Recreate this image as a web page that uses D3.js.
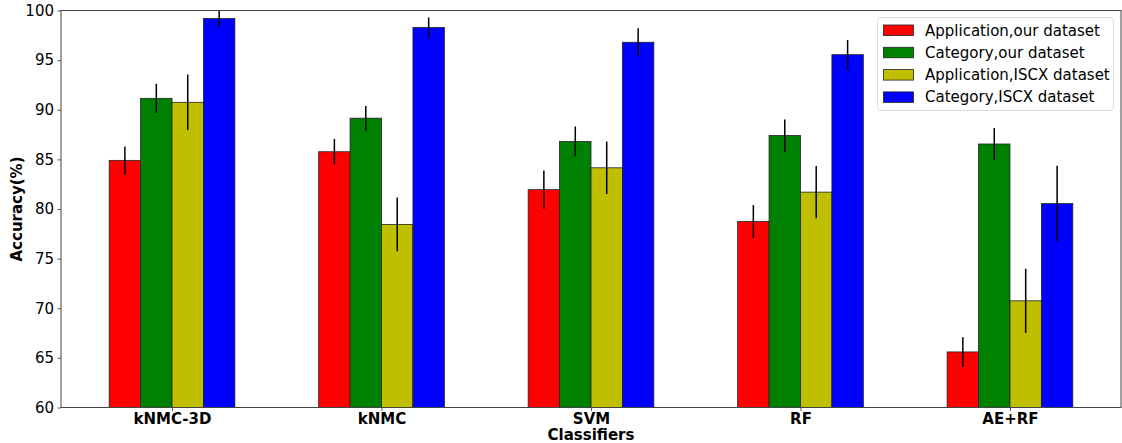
<!DOCTYPE html>
<html><head><meta charset="utf-8">
<script src="https://cdn.jsdelivr.net/npm/d3@7"></script>
<style>body{margin:0;background:#fff}text{font-family:"DejaVu Sans",sans-serif}</style>
</head><body><svg id="c" width="1122" height="443"></svg>
<script>
const categories = ["kNMC-3D","kNMC","SVM","RF","AE+RF"];
const seriesNames = ["Application,our dataset","Category,our dataset","Application,ISCX dataset","Category,ISCX dataset"];
const seriesColors = ["#ff0000","#008000","#bfbf00","#0000ff"];
const appOur = [84.9, 85.77, 81.95, 78.75, 65.6];
const catOur = [91.15, 89.15, 86.8, 87.4, 86.55];
const appISCX = [90.75, 78.45, 84.15, 81.7, 70.75];
const catISCX = [99.2, 98.3, 96.8, 95.55, 80.55];
const errAppOur = [1.4, 1.28, 1.93, 1.66, 1.49];
const errCatOur = [1.46, 1.24, 1.5, 1.63, 1.6];
const errAppISCX = [2.8, 2.7, 2.64, 2.64, 3.24];
const errCatISCX = [0.85, 1.0, 1.41, 1.49, 3.81];
const yTicks = [60,65,70,75,80,85,90,95,100];

const values = [appOur, catOur, appISCX, catISCX];
const errs = [errAppOur, errCatOur, errAppISCX, errCatISCX];

const svg = d3.select("#c");
const L=61, R=1121, T=10.5, B=407.5;
const x = d3.scaleLinear().domain([-0.53, 4.53]).range([L, R]);
const y = d3.scaleLinear().domain([60, 100]).range([B, T]);
const bw = 0.15;

svg.append("defs").append("clipPath").attr("id","clip")
  .append("rect").attr("x",L).attr("y",T).attr("width",R-L).attr("height",B-T);

const g = svg.append("g").attr("clip-path","url(#clip)");
values.forEach((vals, s) => {
  const off = (s - 1.5) * bw;
  g.selectAll(null).data(vals).enter().append("rect")
    .attr("x", (d,i) => x(i + off - bw/2))
    .attr("width", x(bw) - x(0))
    .attr("y", d => y(d))
    .attr("height", d => B - y(d))
    .attr("fill", seriesColors[s])
    .attr("stroke", "#222").attr("stroke-width", 0.8);
});
values.forEach((vals, s) => {
  const off = (s - 1.5) * bw;
  g.selectAll(null).data(vals).enter().append("line")
    .attr("x1", (d,i) => x(i + off)).attr("x2", (d,i) => x(i + off))
    .attr("y1", (d,i) => y(d - errs[s][i])).attr("y2", (d,i) => y(d + errs[s][i]))
    .attr("stroke", "#000").attr("stroke-width", 1.5);
});

// axes
const ya = svg.append("g").attr("transform",`translate(${L},0)`)
  .call(d3.axisLeft(y).tickValues(yTicks).tickSize(3.5).tickPadding(3.5));
ya.select(".domain").remove();
ya.selectAll("line").attr("stroke","#333").attr("stroke-width",0.8);
ya.selectAll("text").attr("font-size","15px").attr("fill","#000").attr("font-family","DejaVu Sans");

const xa = svg.append("g").attr("transform",`translate(0,${B})`)
  .call(d3.axisBottom(x).tickValues(d3.range(categories.length)).tickFormat(i => categories[i]).tickSize(3.5).tickPadding(2));
xa.select(".domain").remove();
xa.selectAll("line").attr("stroke","#333").attr("stroke-width",0.8);
xa.selectAll("text").attr("font-size","15px").attr("font-weight","bold").attr("fill","#000").attr("font-family","DejaVu Sans");

svg.append("rect").attr("x",L).attr("y",T).attr("width",R-L).attr("height",B-T)
  .attr("fill","none").attr("stroke","#444").attr("stroke-width",1);

svg.append("text").attr("x",(L+R)/2).attr("y",440).attr("text-anchor","middle")
  .attr("font-size","15px").attr("font-weight","bold").text("Classifiers");
svg.append("text").attr("transform",`translate(22,${(T+B)/2}) rotate(-90)`).attr("text-anchor","middle")
  .attr("font-size","15px").attr("font-weight","bold").text("Accuracy(%)");

// legend
const lg = svg.append("g");
lg.append("rect").attr("x",877.5).attr("y",17.5).attr("width",236).attr("height",93).attr("rx",3)
  .attr("fill","#fff").attr("fill-opacity",0.8).attr("stroke","#ddd").attr("stroke-width",1);
seriesNames.forEach((n,s) => {
  const yy = 30 + s*22.3;
  lg.append("rect").attr("x",883.5).attr("y",yy-5).attr("width",30).attr("height",10.5)
    .attr("fill",seriesColors[s]).attr("stroke","#222").attr("stroke-width",0.8);
  lg.append("text").attr("x",925).attr("y",yy+5.5).attr("font-size","15px").text(n);
});
</script></body></html>
